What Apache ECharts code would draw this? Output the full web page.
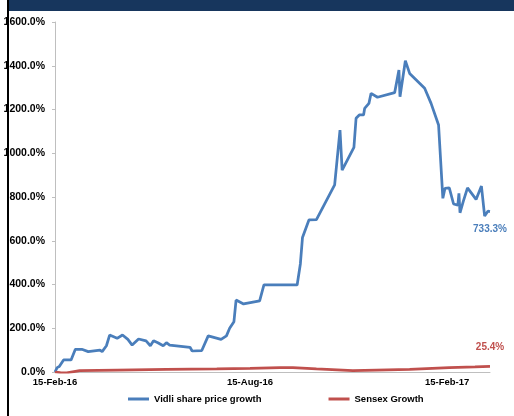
<!DOCTYPE html>
<html>
<head>
<meta charset="utf-8">
<script src="https://cdn.jsdelivr.net/npm/echarts@6/dist/echarts.min.js"></script>
<style>
  html, body { margin: 0; padding: 0; background: #fff; }
  #main { width: 514px; height: 416px; }
</style>
</head>
<body>
<div id="main"></div>
<script>
// 图表数据
const vidliDates = ['2016-02-15', '2016-02-17', '2016-02-19', '2016-02-23', '2016-03-01', '2016-03-05', '2016-03-11',
  '2016-03-17', '2016-03-28', '2016-03-30', '2016-04-03', '2016-04-06', '2016-04-13', '2016-04-18', '2016-04-23',
  '2016-04-27', '2016-05-03', '2016-05-10', '2016-05-14', '2016-05-17', '2016-05-21', '2016-05-26', '2016-05-29',
  '2016-06-01', '2016-06-20', '2016-06-22', '2016-07-01', '2016-07-07', '2016-07-19', '2016-07-24', '2016-07-27',
  '2016-07-31', '2016-08-02', '2016-08-09', '2016-08-24', '2016-08-28', '2016-09-28', '2016-10-01', '2016-10-03',
  '2016-10-09', '2016-10-16', '2016-11-02', '2016-11-07', '2016-11-09', '2016-11-20', '2016-11-22', '2016-11-25',
  '2016-11-29', '2016-11-30', '2016-12-04', '2016-12-06', '2016-12-12', '2016-12-28', '2017-01-01', '2017-01-02',
  '2017-01-07', '2017-01-11', '2017-01-25', '2017-01-31', '2017-02-07', '2017-02-08', '2017-02-11', '2017-02-13',
  '2017-02-17', '2017-02-21', '2017-02-25', '2017-02-26', '2017-02-27', '2017-03-02', '2017-03-06', '2017-03-14',
  '2017-03-19', '2017-03-22', '2017-03-25', '2017-03-27']
const vidliGrowth = [0, 20, 25, 55, 55, 104, 104,
  93, 100, 93, 120, 169, 154, 169, 149,
  123, 151, 142, 120, 143, 134, 120, 134,
  123, 113, 96, 98, 165, 149, 165, 200,
  230, 329, 311, 325, 398, 398, 494, 615,
  695, 697, 855, 1106, 923, 1027, 1160, 1175,
  1175, 1205, 1228, 1274, 1256, 1277, 1380, 1258,
  1423, 1365, 1297, 1228, 1129, 1121, 794, 840,
  842, 768, 763, 817, 728, 779, 842, 789,
  850, 713, 735, 733.3]
const sensexDates = ['2016-02-15', '2016-02-20', '2016-02-26', '2016-03-09', '2016-04-13', '2016-05-29', '2016-07-15',
  '2016-08-15', '2016-09-12', '2016-09-24', '2016-10-16', '2016-11-19', '2016-12-11', '2017-01-11', '2017-02-17',
  '2017-03-13', '2017-03-27']
const sensexGrowth = [0, -3, -4, 6, 9, 12, 14,
  17, 20, 20, 14, 6, 9, 12, 20,
  23, 25.4]
const xTickDates = ['2016-02-15', '2016-08-15', '2017-02-15']
const xTickLabels = ['15-Feb-16', '15-Aug-16', '15-Feb-17']
const seriesNames = ['Vidli share price growth', 'Sensex Growth']

const blue = '#4a7ebb'
const red = '#c0504d'
const font = '"Liberation Sans", Arial, sans-serif'

const toTime = s => echarts.number.parseDate(s).getTime()
const xTickStamps = xTickDates.map(toTime)

function buildData(dates, values) {
  return dates.map((d, i) => [toTime(d), values[i]])
}

// 末尾数值标签（用 markPoint 挂在最后一个点上）
function endMark(dates, values, color, pos, dist) {
  const n = dates.length - 1
  return {
    symbol: 'circle',
    symbolSize: 0,
    silent: true,
    label: {
      show: true,
      position: pos,
      distance: dist,
      color: color,
      fontFamily: font,
      fontSize: 10,
      fontWeight: 'bold',
      formatter: p => p.value.toFixed(1) + '%'
    },
    data: [{ coord: [toTime(dates[n]), values[n]], value: values[n] }]
  }
}

const chart = echarts.init(document.getElementById('main'), null, { renderer: 'canvas' })
const option = {
  animation: false,
  backgroundColor: '#fff',
  graphic: [
    { type: 'rect', shape: { x: 8, y: 0, width: 506, height: 11 }, style: { fill: '#17365d' } },
    { type: 'rect', shape: { x: 7, y: 0, width: 2, height: 416 }, style: { fill: '#000' } }
  ],
  grid: { left: 55, right: 24, top: 22, bottom: 44 },
  legend: {
    bottom: 7,
    left: 123,
    itemGap: 67,
    itemWidth: 21,
    itemHeight: 3,
    icon: 'rect',
    textStyle: { fontFamily: font, fontSize: 9.5, fontWeight: 'bold', color: '#000' },
    data: seriesNames
  },
  xAxis: {
    type: 'value',
    min: toTime(vidliDates[0]),
    max: toTime(vidliDates[vidliDates.length - 1]),
    axisLine: { lineStyle: { color: '#bfbfbf', width: 1 } },
    axisTick: { show: false },
    splitLine: { show: false },
    axisLabel: {
      customValues: xTickStamps,
      margin: 5,
      color: '#000',
      fontFamily: font,
      fontSize: 9.5,
      fontWeight: 'bold',
      hideOverlap: false,
      formatter: function (v) {
        const i = xTickStamps.indexOf(v)
        return i >= 0 ? xTickLabels[i] : ''
      }
    }
  },
  yAxis: {
    type: 'value',
    min: 0,
    max: 1600,
    interval: 200,
    axisLine: { show: true, lineStyle: { color: '#bfbfbf', width: 1 } },
    axisTick: { show: true, length: 3, lineStyle: { color: '#bfbfbf' } },
    splitLine: { show: false },
    axisLabel: {
      margin: 10,
      color: '#000',
      fontFamily: font,
      fontSize: 10.5,
      fontWeight: 'bold',
      formatter: v => v.toFixed(1) + '%'
    }
  },
  series: [
    {
      name: seriesNames[0],
      type: 'line',
      showSymbol: false,
      symbol: 'none',
      color: blue,
      lineStyle: { color: blue, width: 2.75 },
      data: buildData(vidliDates, vidliGrowth),
      markPoint: endMark(vidliDates, vidliGrowth, blue, 'bottom', 13)
    },
    {
      name: seriesNames[1],
      type: 'line',
      showSymbol: false,
      symbol: 'none',
      color: red,
      lineStyle: { color: red, width: 2.75 },
      data: buildData(sensexDates, sensexGrowth),
      markPoint: endMark(sensexDates, sensexGrowth, red, 'top', 14)
    }
  ]
}
chart.setOption(option)
</script>
</body>
</html>
